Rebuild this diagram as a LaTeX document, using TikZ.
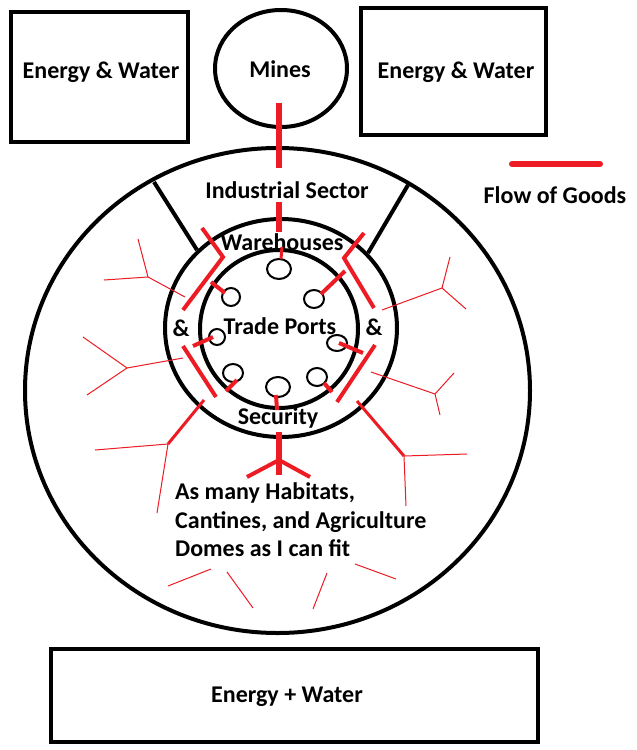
\documentclass[tikz,border=0pt]{standalone}
\usepackage{fontspec}
\setmainfont{Carlito}
\definecolor{pred}{RGB}{237,28,36}
\begin{document}
\begin{tikzpicture}[x=1pt,y=-1pt,
  blk/.style={draw=black,line width=4pt},
  portc/.style={draw=black,line width=2pt},
  rbig/.style={draw=pred,line width=6pt},
  rmed/.style={draw=pred,line width=4pt},
  rsm/.style={draw=pred,line width=3pt},
  rthin/.style={draw=pred,line width=1pt},
  lbl/.style={font=\bfseries\fontsize{24}{28}\selectfont,inner sep=0pt}]
\fill[white] (0,0) rectangle (637,750);
\useasboundingbox (0,0) rectangle (637,750);
% boxes
\draw[blk] (11,12) rectangle (188,142);
\draw[blk] (361,8) rectangle (546,135);
\draw[blk] (51,649) rectangle (538,742);
% circles
\draw[blk] (281,68.5) ellipse [x radius=66pt, y radius=58.5pt];
\draw[blk] (277.5,390.5) ellipse [x radius=252.5pt, y radius=242.5pt];
\draw[blk] (281,328) ellipse [x radius=116pt, y radius=109pt];
\draw[blk] (279,329) ellipse [x radius=79pt, y radius=79pt];
% spokes
\draw[blk] (154,182) -- (197,250);
\draw[blk] (408,185) -- (368,253);
% ports
\draw[portc] (279,269) ellipse [x radius=12pt, y radius=10pt];
\draw[portc] (231,297) ellipse [x radius=9pt, y radius=9pt];
\draw[portc] (314,299) ellipse [x radius=10pt, y radius=9pt];
\draw[portc] (217,337) ellipse [x radius=8pt, y radius=8pt];
\draw[portc] (337,343) ellipse [x radius=10pt, y radius=8pt];
\draw[portc] (233,373) ellipse [x radius=10pt, y radius=9pt];
\draw[portc] (278,387) ellipse [x radius=12pt, y radius=10pt];
\draw[portc] (317,377) ellipse [x radius=10pt, y radius=9pt];
% labels
\node[lbl] (ewl) at (101,72) {Energy \& Water};
\node[lbl] (ewr) at (456,72) {Energy \& Water};
\node[lbl] (mines) at (280,69) {Mines};
\node[lbl] (ind) at (287,190) {Industrial Sector};
\node[lbl] (flow) at (555,195) {Flow of Goods};
\node[lbl] (wh) at (282,242) {Warehouses};
\node[lbl] (tp) at (280,326) {Trade Ports};
\node[lbl] (ampl) at (181,328) {\&};
\node[lbl] (ampr) at (374,327) {\&};
\node[lbl] (sec) at (278,418) {Security};
\node[lbl,anchor=base west] (hab1) at (175,499) {As many Habitats,};
\node[lbl,anchor=base west] (hab2) at (175,528) {Cantines, and Agriculture};
\node[lbl,anchor=base west] (hab3) at (175,556) {Domes as I can fit};
\node[lbl] (ewb) at (287,697) {Energy + Water};
% legend
\draw[rbig,line cap=round] (512,164) -- (600,164);
% thick red flows
\draw[rbig] (279,103) -- (279,168);
\draw[rbig] (279,202) -- (279,232);
\draw[rsm] (282,247) -- (281,259);
\draw[rmed] (211,282) -- (225,293);
\draw[rmed] (321,294) -- (345,271);
\draw[rmed] (193,346) -- (213,337);
\draw[rmed] (339,343) -- (363,353);
\draw[rmed] (226,391) -- (237,380);
\draw[rmed] (276,395) -- (277,410);
\draw[rmed] (324,383) -- (332,392);
% brackets
\draw[rmed,line join=miter] (202,228) -- (223,257) -- (183,310);
\draw[rmed] (183,346) -- (216,397);
\draw[rmed,line join=miter] (364,233) -- (344,258) -- (374,308);
\draw[rmed] (375,345) -- (337,402);
% lower branches
\draw[rsm] (204,400) -- (168,444);
\draw[rsm] (357,401) -- (404,456);
\draw[rbig] (279,432) -- (279,475);
\draw[rmed] (247,477) -- (279,460) -- (310,477);
% thin trees
\draw[rthin] (95,450) -- (168,444) -- (157,513);
\draw[rthin] (467,454) -- (404,456) -- (406,506);
\draw[rthin] (138,239) -- (148,277) -- (185,297);
\draw[rthin] (104,280) -- (148,277);
\draw[rthin] (83,337) -- (127,368) -- (183,358);
\draw[rthin] (87,395) -- (127,368);
\draw[rthin] (450,257) -- (442,288) -- (466,309);
\draw[rthin] (442,288) -- (382,310);
\draw[rthin] (454,373) -- (435,394) -- (440,415);
\draw[rthin] (435,394) -- (371,372);
\draw[rthin] (168,586) -- (211,569);
\draw[rthin] (227,572) -- (253,608);
\draw[rthin] (327,573) -- (313,609);
\draw[rthin] (355,564) -- (396,579);
\end{tikzpicture}
\end{document}
